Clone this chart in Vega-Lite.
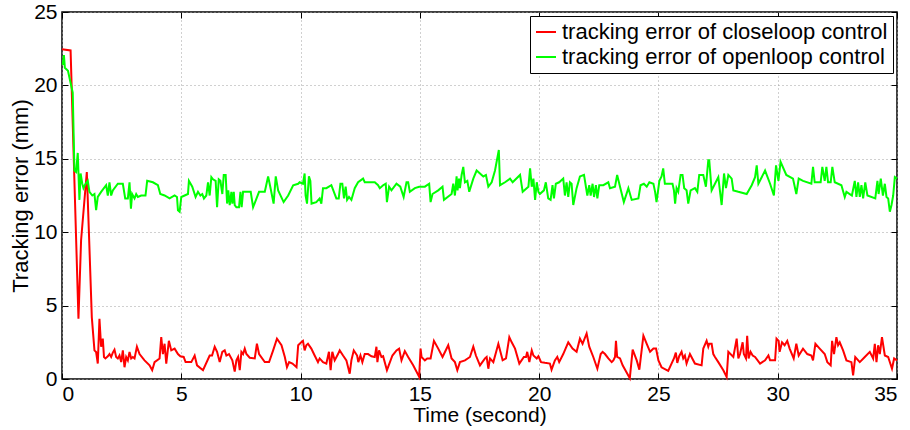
{
  "$schema": "https://vega.github.io/schema/vega-lite/v6.json",
  "width": 835,
  "height": 367,
  "autosize": {"type": "none"},
  "padding": {"left": 62, "top": 12, "right": 13, "bottom": 51},
  "background": "white",
  "config": {
    "font": "Liberation Sans",
    "view": {"stroke": "black", "strokeWidth": 1.5},
    "axis": {
      "domain": false,
      "gridColor": "#a0a0a0",
      "gridDash": [1, 3],
      "gridWidth": 1,
      "tickColor": "black",
      "tickSize": -6,
      "tickWidth": 1,
      "labelColor": "black",
      "titleColor": "black",
      "labelFontSize": 21,
      "titleFontSize": 22,
      "titleFontWeight": "normal"
    },
    "legend": {
      "orient": "top-right",
      "offset": 4,
      "strokeColor": "black",
      "fillColor": "white",
      "padding": 5,
      "labelFontSize": 22,
      "labelColor": "black",
      "labelLimit": 0,
      "symbolType": "stroke",
      "symbolStrokeWidth": 2,
      "symbolSize": 400,
      "rowPadding": 3,
      "labelOffset": 5,
      "title": null,
      "cornerRadius": 0
    }
  },
  "datasets": {
    "closeloop": [
      {"t":0,"e":22.47},{"t":0.36,"e":22.38},{"t":0.69,"e":4.1},{"t":0.8,"e":9.45},{"t":1.04,"e":14.1},{"t":1.13,"e":9.9},{"t":1.25,"e":4.2},{"t":1.36,"e":1.95},{"t":1.43,"e":1.84},{"t":1.5,"e":1.05},{"t":1.57,"e":4.1},{"t":1.64,"e":2.2},{"t":1.71,"e":2.75},{"t":1.76,"e":1.5},{"t":1.82,"e":1.4},{"t":1.92,"e":1.55},{"t":1.99,"e":1.7},{"t":2.06,"e":1.5},{"t":2.13,"e":1.8},{"t":2.2,"e":2.0},{"t":2.27,"e":1.5},{"t":2.34,"e":1.4},{"t":2.41,"e":1.6},{"t":2.48,"e":1.15},{"t":2.55,"e":1.95},{"t":2.62,"e":0.8},{"t":2.69,"e":1.5},{"t":2.76,"e":1.27},{"t":2.83,"e":1.84},{"t":2.9,"e":1.4},{"t":2.97,"e":1.5},{"t":3.04,"e":1.4},{"t":3.14,"e":2.2},{"t":3.25,"e":1.7},{"t":3.46,"e":1.27},{"t":3.67,"e":0.93},{"t":3.78,"e":0.6},{"t":3.88,"e":1.15},{"t":4.09,"e":1.4},{"t":4.16,"e":2.85},{"t":4.23,"e":1.7},{"t":4.3,"e":2.4},{"t":4.37,"e":1.05},{"t":4.48,"e":2.6},{"t":4.58,"e":1.95},{"t":4.72,"e":2.07},{"t":4.86,"e":1.7},{"t":4.96,"e":1.55},
      {"t":5.1,"e":1.5},{"t":5.18,"e":1.15},{"t":5.42,"e":1.15},{"t":5.56,"e":1.6},{"t":5.66,"e":0.93},{"t":5.91,"e":0.6},{"t":6.19,"e":1.6},{"t":6.29,"e":1.6},{"t":6.4,"e":2.2},{"t":6.5,"e":1.85},{"t":6.61,"e":1.15},{"t":6.72,"e":1.85},{"t":6.82,"e":1.95},{"t":6.89,"e":1.6},{"t":7.0,"e":1.7},{"t":7.14,"e":1.27},{"t":7.24,"e":0.5},{"t":7.31,"e":1.27},{"t":7.38,"e":1.5},{"t":7.45,"e":0.6},{"t":7.52,"e":1.85},{"t":7.59,"e":1.7},{"t":7.66,"e":2.07},{"t":7.73,"e":1.7},{"t":7.87,"e":1.45},{"t":8.08,"e":1.4},{"t":8.17,"e":2.4},{"t":8.26,"e":1.7},{"t":8.5,"e":1.15},{"t":8.68,"e":1.15},{"t":8.85,"e":1.95},{"t":9.01,"e":2.75},{"t":9.2,"e":2.3},{"t":9.34,"e":1.5},{"t":9.43,"e":0.8},{"t":9.52,"e":1.15},{"t":9.66,"e":1.05},{"t":9.83,"e":0.8},{"t":9.9,"e":2.3},{"t":10.03,"e":2.5},
      {"t":10.1,"e":2.6},{"t":10.17,"e":1.95},{"t":10.24,"e":2.3},{"t":10.31,"e":2.4},{"t":10.45,"e":2.07},{"t":10.59,"e":1.6},{"t":10.73,"e":1.15},{"t":10.8,"e":1.4},{"t":10.94,"e":1.15},{"t":11.08,"e":1.05},{"t":11.19,"e":1.85},{"t":11.26,"e":0.6},{"t":11.33,"e":1.85},{"t":11.43,"e":1.27},{"t":11.57,"e":1.7},{"t":11.64,"e":1.95},{"t":11.78,"e":1.6},{"t":11.92,"e":1.27},{"t":12.06,"e":0.36},{"t":12.13,"e":1.27},{"t":12.23,"e":1.95},{"t":12.37,"e":1.6},{"t":12.42,"e":1.15},{"t":12.51,"e":1.6},{"t":12.59,"e":1.15},{"t":12.69,"e":1.7},{"t":12.83,"e":1.7},{"t":12.97,"e":1.55},{"t":13.11,"e":1.5},{"t":13.18,"e":2.2},{"t":13.22,"e":1.15},{"t":13.29,"e":1.95},{"t":13.39,"e":1.5},{"t":13.46,"e":1.55},{"t":13.62,"e":0.6},{"t":13.85,"e":1.6},{"t":14.02,"e":1.95},{"t":14.13,"e":2.07},{"t":14.23,"e":1.27},{"t":14.37,"e":1.9},{"t":14.51,"e":1.5},{"t":14.72,"e":0.93},{"t":14.97,"e":0.15},{"t":15.03,"e":2.07},
      {"t":15.07,"e":1.5},{"t":15.21,"e":1.27},{"t":15.31,"e":1.4},{"t":15.45,"e":1.4},{"t":15.59,"e":2.6},{"t":15.77,"e":2.07},{"t":15.95,"e":1.5},{"t":16.19,"e":2.3},{"t":16.33,"e":1.4},{"t":16.47,"e":1.15},{"t":16.57,"e":0.6},{"t":16.68,"e":1.15},{"t":16.89,"e":1.27},{"t":17.1,"e":1.5},{"t":17.24,"e":2.2},{"t":17.35,"e":1.6},{"t":17.52,"e":0.93},{"t":17.73,"e":1.4},{"t":17.8,"e":1.5},{"t":17.87,"e":0.7},{"t":17.94,"e":1.4},{"t":18.08,"e":1.15},{"t":18.29,"e":2.4},{"t":18.47,"e":1.27},{"t":18.61,"e":1.4},{"t":18.75,"e":2.85},{"t":18.85,"e":2.5},{"t":18.99,"e":2.07},{"t":19.17,"e":1.05},{"t":19.36,"e":1.5},{"t":19.45,"e":1.5},{"t":19.5,"e":1.85},{"t":19.59,"e":1.15},{"t":19.69,"e":1.95},{"t":19.76,"e":1.6},{"t":19.9,"e":1.4},{"t":19.97,"e":1.55},{"t":20.08,"e":1.15},
      {"t":20.24,"e":1.1},{"t":20.45,"e":1.05},{"t":20.52,"e":0.64},{"t":20.66,"e":1.27},{"t":20.76,"e":1.5},{"t":20.84,"e":1.15},{"t":21.01,"e":1.7},{"t":21.22,"e":2.5},{"t":21.4,"e":2.07},{"t":21.57,"e":1.85},{"t":21.71,"e":2.75},{"t":21.82,"e":2.4},{"t":21.99,"e":3.1},{"t":22.1,"e":2.2},{"t":22.27,"e":1.5},{"t":22.44,"e":0.7},{"t":22.58,"e":1.7},{"t":22.66,"e":1.85},{"t":22.76,"e":1.7},{"t":22.9,"e":1.4},{"t":23.04,"e":1.15},{"t":23.11,"e":1.27},{"t":23.18,"e":1.5},{"t":23.22,"e":2.6},{"t":23.27,"e":1.5},{"t":23.39,"e":1.4},{"t":23.5,"e":0.93},{"t":23.8,"e":0.05},{"t":23.92,"e":2.0},{"t":24.09,"e":1.27},{"t":24.2,"e":0.64},{"t":24.37,"e":2.95},{"t":24.51,"e":2.4},{"t":24.65,"e":1.85},{"t":24.79,"e":2.07},{"t":24.9,"e":2.07},{"t":25.0,"e":1.27},
      {"t":25.13,"e":0.8},{"t":25.41,"e":0.55},{"t":25.65,"e":1.4},{"t":25.73,"e":1.8},{"t":25.79,"e":1.1},{"t":25.87,"e":1.55},{"t":25.97,"e":1.85},{"t":26.04,"e":1.4},{"t":26.11,"e":1.6},{"t":26.18,"e":1.05},{"t":26.32,"e":1.7},{"t":26.53,"e":1.05},{"t":26.81,"e":0.93},{"t":26.88,"e":2.07},{"t":27.02,"e":2.6},{"t":27.09,"e":2.2},{"t":27.13,"e":2.4},{"t":27.23,"e":2.4},{"t":27.3,"e":1.7},{"t":27.37,"e":1.5},{"t":27.51,"e":1.15},{"t":27.72,"e":0.6},{"t":27.86,"e":0.14},{"t":27.93,"e":1.85},{"t":28.14,"e":1.5},{"t":28.28,"e":2.75},{"t":28.35,"e":1.4},{"t":28.42,"e":1.7},{"t":28.53,"e":2.5},{"t":28.58,"e":1.7},{"t":28.67,"e":1.4},{"t":28.72,"e":2.95},{"t":28.78,"e":1.4},{"t":28.86,"e":1.85},{"t":28.95,"e":1.6},{"t":29.05,"e":1.5},{"t":29.26,"e":1.05},{"t":29.47,"e":1.27},{"t":29.61,"e":1.6},{"t":29.68,"e":1.27},{"t":29.89,"e":1.27},{"t":29.95,"e":2.75},
      {"t":30.04,"e":2.6},{"t":30.08,"e":1.85},{"t":30.18,"e":2.5},{"t":30.29,"e":2.3},{"t":30.4,"e":2.6},{"t":30.5,"e":2.07},{"t":30.67,"e":1.4},{"t":30.78,"e":2.4},{"t":30.88,"e":1.6},{"t":31.06,"e":2.07},{"t":31.24,"e":1.7},{"t":31.41,"e":1.6},{"t":31.48,"e":1.27},{"t":31.58,"e":2.4},{"t":31.76,"e":2.07},{"t":31.97,"e":1.7},{"t":32.08,"e":1.15},{"t":32.22,"e":0.93},{"t":32.28,"e":2.6},{"t":32.36,"e":1.7},{"t":32.46,"e":2.85},{"t":32.53,"e":2.3},{"t":32.6,"e":2.5},{"t":32.74,"e":1.95},{"t":32.88,"e":1.27},{"t":33.09,"e":1.15},{"t":33.16,"e":0.25},{"t":33.25,"e":1.5},{"t":33.44,"e":1.15},{"t":33.65,"e":1.5},{"t":33.86,"e":1.85},{"t":34.0,"e":1.4},{"t":34.07,"e":2.4},{"t":34.14,"e":1.15},{"t":34.21,"e":2.3},{"t":34.28,"e":1.7},{"t":34.37,"e":2.85},{"t":34.49,"e":1.6},{"t":34.63,"e":1.5},{"t":34.79,"e":0.7},{"t":34.88,"e":1.4},{"t":35.0,"e":1.27}
    ],
    "openloop": [
      {"t":0.03,"e":21.4},{"t":0.08,"e":22.07},{"t":0.12,"e":21.2},{"t":0.25,"e":21.0},{"t":0.45,"e":19.5},{"t":0.52,"e":14.2},{"t":0.59,"e":14.1},{"t":0.66,"e":15.4},{"t":0.73,"e":12.2},{"t":0.78,"e":14.0},{"t":0.85,"e":13.3},{"t":0.9,"e":13.0},{"t":0.99,"e":13.3},{"t":1.08,"e":13.5},{"t":1.15,"e":12.75},{"t":1.27,"e":12.5},{"t":1.36,"e":12.6},{"t":1.43,"e":11.5},{"t":1.5,"e":12.4},{"t":1.64,"e":12.75},{"t":1.85,"e":13.2},{"t":1.92,"e":12.5},{"t":1.99,"e":13.4},{"t":2.06,"e":12.5},{"t":2.13,"e":12.85},{"t":2.34,"e":13.3},{"t":2.55,"e":13.3},{"t":2.65,"e":12.3},{"t":2.76,"e":12.3},{"t":2.83,"e":13.4},{"t":2.89,"e":11.6},{"t":2.94,"e":12.6},{"t":3.04,"e":12.3},{"t":3.11,"e":12.6},{"t":3.18,"e":12.4},{"t":3.32,"e":12.5},{"t":3.5,"e":12.5},{"t":3.57,"e":13.5},{"t":3.81,"e":13.4},{"t":4.02,"e":13.2},{"t":4.12,"e":12.6},{"t":4.3,"e":12.5},{"t":4.51,"e":12.3},{"t":4.72,"e":12.5},{"t":4.82,"e":12.4},{"t":4.86,"e":11.5},{"t":4.93,"e":11.4},
      {"t":5.0,"e":12.4},{"t":5.14,"e":12.5},{"t":5.28,"e":12.6},{"t":5.32,"e":13.5},{"t":5.46,"e":13.1},{"t":5.6,"e":12.4},{"t":5.7,"e":12.75},{"t":5.8,"e":12.5},{"t":5.88,"e":12.6},{"t":5.95,"e":12.3},{"t":6.05,"e":12.5},{"t":6.12,"e":13.4},{"t":6.19,"e":12.5},{"t":6.26,"e":13.75},{"t":6.33,"e":13.6},{"t":6.44,"e":13.5},{"t":6.5,"e":11.7},{"t":6.57,"e":13.6},{"t":6.64,"e":13.5},{"t":6.72,"e":12.6},{"t":6.78,"e":13.9},{"t":6.86,"e":13.9},{"t":6.92,"e":11.95},{"t":6.97,"e":12.85},{"t":7.03,"e":11.85},{"t":7.1,"e":12.75},{"t":7.14,"e":11.95},{"t":7.2,"e":12.75},{"t":7.24,"e":11.85},{"t":7.31,"e":11.7},{"t":7.42,"e":11.7},{"t":7.48,"e":12.75},{"t":7.53,"e":11.7},{"t":7.59,"e":12.75},{"t":7.73,"e":12.75},{"t":7.91,"e":12.75},{"t":8.01,"e":11.7},{"t":8.26,"e":12.75},{"t":8.5,"e":12.75},{"t":8.64,"e":13.8},{"t":8.73,"e":13.1},{"t":8.87,"e":11.95},{"t":8.96,"e":13.8},{"t":9.06,"e":12.85},{"t":9.29,"e":12.05},{"t":9.48,"e":12.5},{"t":9.69,"e":13.2},{"t":9.9,"e":13.3},
      {"t":9.96,"e":13.4},{"t":10.1,"e":13.3},{"t":10.17,"e":14.0},{"t":10.21,"e":12.5},{"t":10.27,"e":11.95},{"t":10.35,"e":13.8},{"t":10.41,"e":13.5},{"t":10.46,"e":11.95},{"t":10.66,"e":12.05},{"t":10.8,"e":12.3},{"t":10.87,"e":11.95},{"t":10.94,"e":13.0},{"t":11.08,"e":13.0},{"t":11.29,"e":13.2},{"t":11.5,"e":12.3},{"t":11.6,"e":12.3},{"t":11.67,"e":13.3},{"t":11.75,"e":13.3},{"t":11.82,"e":12.3},{"t":11.89,"e":13.1},{"t":11.95,"e":12.2},{"t":12.03,"e":12.4},{"t":12.13,"e":12.2},{"t":12.27,"e":13.0},{"t":12.41,"e":13.4},{"t":12.62,"e":13.65},{"t":12.69,"e":13.4},{"t":12.97,"e":13.4},{"t":13.11,"e":13.4},{"t":13.25,"e":13.2},{"t":13.32,"e":13.0},{"t":13.46,"e":13.2},{"t":13.57,"e":13.3},{"t":13.62,"e":12.05},{"t":13.71,"e":13.1},{"t":13.81,"e":12.85},{"t":14.02,"e":13.3},{"t":14.18,"e":13.1},{"t":14.32,"e":12.4},{"t":14.44,"e":13.4},{"t":14.51,"e":13.4},{"t":14.58,"e":12.75},{"t":14.79,"e":13.0},{"t":14.97,"e":13.1},
      {"t":15.21,"e":13.1},{"t":15.39,"e":13.3},{"t":15.45,"e":12.05},{"t":15.53,"e":12.6},{"t":15.77,"e":12.85},{"t":15.95,"e":13.1},{"t":16.01,"e":12.2},{"t":16.33,"e":12.6},{"t":16.4,"e":13.3},{"t":16.47,"e":12.5},{"t":16.54,"e":13.8},{"t":16.58,"e":12.85},{"t":16.64,"e":13.65},{"t":16.68,"e":13.0},{"t":16.75,"e":13.9},{"t":16.82,"e":14.45},{"t":16.89,"e":13.4},{"t":16.99,"e":13.5},{"t":17.07,"e":12.75},{"t":17.24,"e":13.65},{"t":17.38,"e":14.2},{"t":17.52,"e":14.0},{"t":17.66,"e":13.8},{"t":17.77,"e":13.9},{"t":17.87,"e":13.1},{"t":18.01,"e":13.4},{"t":18.15,"e":14.2},{"t":18.31,"e":15.6},{"t":18.36,"e":13.2},{"t":18.57,"e":13.4},{"t":18.78,"e":13.65},{"t":18.89,"e":13.4},{"t":19.2,"e":13.9},{"t":19.31,"e":12.75},{"t":19.55,"e":13.1},{"t":19.62,"e":14.35},{"t":19.69,"e":13.1},{"t":19.76,"e":13.65},{"t":19.83,"e":12.2},{"t":19.9,"e":13.4},{"t":19.97,"e":12.75},
      {"t":20.03,"e":12.6},{"t":20.2,"e":12.85},{"t":20.28,"e":13.4},{"t":20.38,"e":12.3},{"t":20.48,"e":12.2},{"t":20.56,"e":13.2},{"t":20.62,"e":12.3},{"t":20.7,"e":13.3},{"t":20.84,"e":13.4},{"t":21.01,"e":13.65},{"t":21.08,"e":12.5},{"t":21.15,"e":13.4},{"t":21.22,"e":12.4},{"t":21.29,"e":13.4},{"t":21.36,"e":13.3},{"t":21.43,"e":11.85},{"t":21.57,"e":13.0},{"t":21.71,"e":13.8},{"t":21.88,"e":13.9},{"t":22.02,"e":12.5},{"t":22.1,"e":13.2},{"t":22.16,"e":12.5},{"t":22.24,"e":13.3},{"t":22.3,"e":12.4},{"t":22.38,"e":13.2},{"t":22.44,"e":12.3},{"t":22.52,"e":13.2},{"t":22.69,"e":13.2},{"t":22.9,"e":13.4},{"t":22.97,"e":13.0},{"t":23.18,"e":13.1},{"t":23.27,"e":13.9},{"t":23.39,"e":13.1},{"t":23.55,"e":12.05},{"t":23.74,"e":13.0},{"t":23.88,"e":12.2},{"t":24.16,"e":12.3},{"t":24.25,"e":13.2},{"t":24.39,"e":13.3},{"t":24.51,"e":13.1},{"t":24.62,"e":13.4},{"t":24.79,"e":13.3},{"t":24.86,"e":12.75},{"t":24.92,"e":12.05},{"t":25.04,"e":13.5},
      {"t":25.13,"e":13.8},{"t":25.2,"e":14.35},{"t":25.27,"e":13.3},{"t":25.59,"e":13.3},{"t":25.65,"e":12.85},{"t":25.7,"e":11.95},{"t":25.76,"e":13.0},{"t":25.83,"e":12.75},{"t":25.93,"e":13.9},{"t":26.01,"e":13.9},{"t":26.08,"e":13.0},{"t":26.18,"e":12.85},{"t":26.25,"e":11.95},{"t":26.35,"e":12.85},{"t":26.53,"e":13.0},{"t":26.63,"e":12.75},{"t":26.71,"e":13.9},{"t":26.88,"e":13.9},{"t":26.99,"e":13.1},{"t":27.09,"e":14.9},{"t":27.13,"e":14.9},{"t":27.23,"e":12.85},{"t":27.37,"e":13.3},{"t":27.51,"e":13.75},{"t":27.65,"e":11.85},{"t":27.75,"e":14.0},{"t":27.83,"e":13.0},{"t":27.93,"e":13.9},{"t":28.07,"e":13.65},{"t":28.14,"e":12.85},{"t":28.35,"e":12.75},{"t":28.7,"e":12.6},{"t":28.91,"e":13.2},{"t":29.05,"e":13.75},{"t":29.12,"e":14.55},{"t":29.19,"e":13.3},{"t":29.47,"e":14.2},{"t":29.68,"e":13.3},{"t":29.84,"e":12.5},{"t":29.93,"e":14.55},{"t":30.03,"e":13.5},
      {"t":30.12,"e":14.8},{"t":30.36,"e":13.9},{"t":30.64,"e":13.65},{"t":30.78,"e":12.6},{"t":30.88,"e":13.65},{"t":31.06,"e":13.5},{"t":31.41,"e":13.3},{"t":31.48,"e":14.45},{"t":31.55,"e":13.4},{"t":31.8,"e":13.4},{"t":31.87,"e":14.45},{"t":31.97,"e":13.5},{"t":32.04,"e":14.45},{"t":32.11,"e":13.4},{"t":32.22,"e":13.4},{"t":32.29,"e":14.45},{"t":32.39,"e":13.4},{"t":32.67,"e":13.2},{"t":32.81,"e":12.4},{"t":32.88,"e":12.75},{"t":33.11,"e":12.5},{"t":33.23,"e":13.5},{"t":33.3,"e":12.4},{"t":33.37,"e":13.4},{"t":33.44,"e":12.4},{"t":33.51,"e":13.2},{"t":33.58,"e":12.3},{"t":33.67,"e":13.4},{"t":33.76,"e":12.5},{"t":34.09,"e":12.3},{"t":34.18,"e":13.5},{"t":34.23,"e":12.6},{"t":34.32,"e":13.65},{"t":34.41,"e":12.5},{"t":34.49,"e":13.3},{"t":34.56,"e":12.4},{"t":34.63,"e":12.3},{"t":34.7,"e":11.4},{"t":34.77,"e":11.85},{"t":34.84,"e":12.5},{"t":34.91,"e":13.75},{"t":35.0,"e":13.65}
    ]
  },
  "layer": [
    {
      "data": {"name": "closeloop"},
      "mark": {"type": "line", "strokeWidth": 2, "interpolate": "linear"},
      "encoding": {
        "x": {"field": "t", "type": "quantitative", "scale": {"domain": [0, 35], "nice": false},
              "axis": {"orient": "bottom", "values": [0,5,10,15,20,25,30,35], "title": "Time (second)", "titleFontSize": 21, "labelPadding": 10, "titlePadding": 0, "grid": true}},
        "y": {"field": "e", "type": "quantitative", "scale": {"domain": [0, 25], "nice": false},
              "axis": {"orient": "left", "values": [0,5,10,15,20,25], "title": "Tracking error (mm)", "labelPadding": 11, "titlePadding": 1, "grid": true}},
        "color": {"datum": "tracking error of closeloop control", "type": "nominal",
                  "scale": {"domain": ["tracking error of closeloop control", "tracking error of openloop control"], "range": ["#ff0000", "#00ff00"]}}
      }
    },
    {
      "data": {"name": "openloop"},
      "mark": {"type": "line", "strokeWidth": 2, "interpolate": "linear"},
      "encoding": {
        "x": {"field": "t", "type": "quantitative", "scale": {"domain": [0, 35], "nice": false},
              "axis": {"orient": "top", "values": [0,5,10,15,20,25,30,35], "labels": false, "title": null, "grid": false}},
        "y": {"field": "e", "type": "quantitative", "scale": {"domain": [0, 25], "nice": false},
              "axis": {"orient": "right", "values": [0,5,10,15,20,25], "labels": false, "title": null, "grid": false}},
        "color": {"datum": "tracking error of openloop control", "type": "nominal"}
      }
    }
  ],
  "resolve": {"axis": {"x": "independent", "y": "independent"}}
}
